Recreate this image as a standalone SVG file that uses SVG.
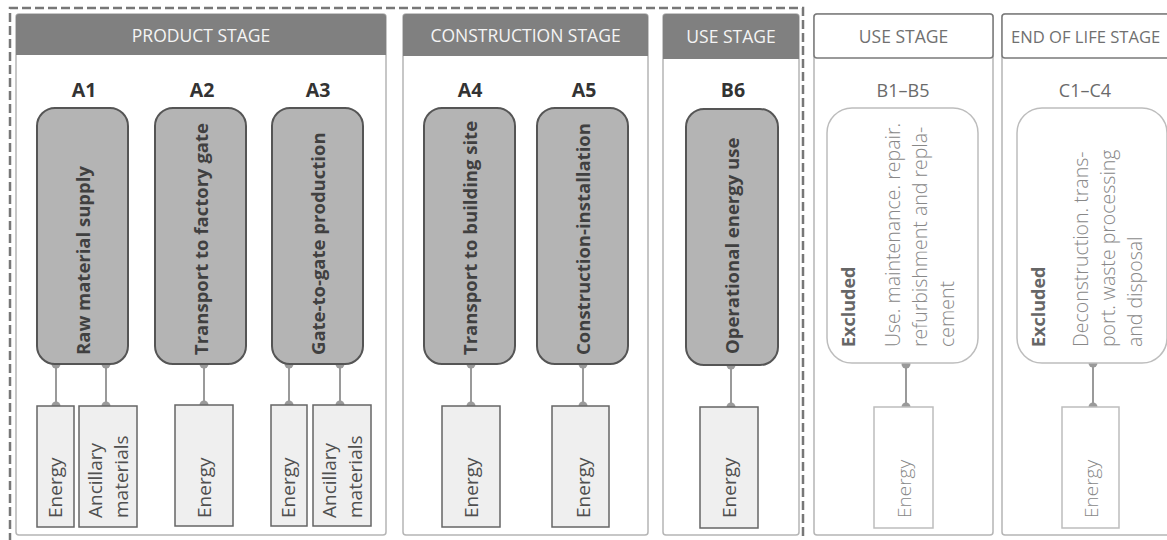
<svg xmlns="http://www.w3.org/2000/svg" width="1167" height="540" viewBox="0 0 1167 540">
<style>
text{font-family:"Open Sans","Noto Sans","Liberation Sans",sans-serif}
.panel{fill:#fff;stroke:#b5b5b5;stroke-width:1.5}
.hdr{fill:#808080}
.hdr2{fill:#fff;stroke:#7a7a7a;stroke-width:1.5}
.ht{fill:#f4f4f4;font-size:17.5px;text-anchor:middle}
.ht2{fill:#707070;font-size:17.5px;text-anchor:middle}
.code{fill:#333;font-size:19.5px;font-weight:700;text-anchor:middle}
.code2{fill:#6a6a6a;font-size:18px;text-anchor:middle}
.proc{fill:#b4b4b4;stroke:#555;stroke-width:2}
.proc2{fill:#fff;stroke:#bdbdbd;stroke-width:1.5}
.pt{fill:#404040;font-size:18.5px;font-weight:700}
.ex{fill:#666;font-size:18px;font-weight:700}
.desc{fill:#888;font-size:19.5px;font-weight:300}
.inp{fill:#efefef;stroke:#666;stroke-width:1.5}
.inp2{fill:#fff;stroke:#bdbdbd;stroke-width:1.5}
.it{fill:#505050;font-size:19px}
.it2{fill:#888;font-size:19px;font-weight:300}
.ln{stroke:#9a9a9a;stroke-width:2;fill:none}
.dot{fill:#9a9a9a}
</style>

<path d="M10,542 V8 H803 V542" fill="none" stroke="#777" stroke-width="2.5" stroke-dasharray="9 4"/>

<g id="panel-product">
<rect class="panel" x="16" y="14" width="370" height="521" rx="3"/>
<path class="hdr" d="M16,55 V17 Q16,14 19,14 H383 Q386,14 386,17 V55 Z"/>
<text class="ht" x="201" y="42">PRODUCT STAGE</text>
</g>
<g id="panel-construction">
<rect class="panel" x="403" y="14" width="245" height="521" rx="3"/>
<path class="hdr" d="M403,56 V17 Q403,14 406,14 H645 Q648,14 648,17 V56 Z"/>
<text class="ht" x="525.5" y="42">CONSTRUCTION STAGE</text>
</g>
<g id="panel-use-b6">
<rect class="panel" x="663" y="14" width="136" height="521" rx="3"/>
<path class="hdr" d="M663,59 V17 Q663,14 666,14 H796 Q799,14 799,17 V59 Z"/>
<text class="ht" x="731" y="43">USE STAGE</text>
</g>
<g id="panel-use-b1b5">
<rect class="panel" x="814" y="14" width="179" height="521" rx="3"/>
<rect class="hdr2" x="814" y="14" width="179" height="44" rx="3"/>
<text class="ht2" x="903.5" y="43">USE STAGE</text>
</g>
<g id="panel-eol">
<rect class="panel" x="1002" y="14" width="190" height="521" rx="3"/>
<rect class="hdr2" x="1002" y="14" width="190" height="44" rx="3"/>
<text class="ht2" x="1011" y="43" style="text-anchor:start;font-size:16.6px">END OF LIFE STAGE</text>
</g>

<g id="connectors">
<line class="ln" x1="56" y1="364" x2="56" y2="406"/><circle class="dot" cx="56" cy="364" r="4.5"/><circle class="dot" cx="56" cy="406" r="4.5"/>
<line class="ln" x1="106" y1="364" x2="106" y2="406"/><circle class="dot" cx="106" cy="364" r="4.5"/><circle class="dot" cx="106" cy="406" r="4.5"/>
<line class="ln" x1="204" y1="364" x2="204" y2="405"/><circle class="dot" cx="204" cy="364" r="4.5"/><circle class="dot" cx="204" cy="405" r="4.5"/>
<line class="ln" x1="289" y1="364" x2="289" y2="405"/><circle class="dot" cx="289" cy="364" r="4.5"/><circle class="dot" cx="289" cy="405" r="4.5"/>
<line class="ln" x1="340" y1="364" x2="340" y2="405"/><circle class="dot" cx="340" cy="364" r="4.5"/><circle class="dot" cx="340" cy="405" r="4.5"/>
<line class="ln" x1="471" y1="364" x2="471" y2="406"/><circle class="dot" cx="471" cy="364" r="4.5"/><circle class="dot" cx="471" cy="406" r="4.5"/>
<line class="ln" x1="583" y1="364" x2="583" y2="406"/><circle class="dot" cx="583" cy="364" r="4.5"/><circle class="dot" cx="583" cy="406" r="4.5"/>
<line class="ln" x1="731" y1="365" x2="731" y2="407"/><circle class="dot" cx="731" cy="365" r="4.5"/><circle class="dot" cx="731" cy="407" r="4.5"/>
<line class="ln" x1="906" y1="364" x2="906" y2="407"/><circle class="dot" cx="906" cy="364" r="4.5"/><circle class="dot" cx="906" cy="407" r="4.5"/>
<line class="ln" x1="1093" y1="363" x2="1093" y2="407"/><circle class="dot" cx="1093" cy="363" r="4.5"/><circle class="dot" cx="1093" cy="407" r="4.5"/>
</g>

<g id="A1">
<text class="code" x="84" y="97">A1</text>
<rect class="proc" x="37" y="108" width="91" height="256" rx="18"/>
<text class="pt" transform="translate(90,355) rotate(-90)">Raw material supply</text>
</g>
<g id="A2">
<text class="code" x="202" y="97">A2</text>
<rect class="proc" x="155" y="108" width="91" height="256" rx="18"/>
<text class="pt" transform="translate(208,355) rotate(-90)">Transport to factory gate</text>
</g>
<g id="A3">
<text class="code" x="318" y="97">A3</text>
<rect class="proc" x="272" y="108" width="91" height="256" rx="18"/>
<text class="pt" transform="translate(325,355) rotate(-90)">Gate-to-gate production</text>
</g>
<g id="A4">
<text class="code" x="470" y="97">A4</text>
<rect class="proc" x="424" y="108" width="91" height="256" rx="18"/>
<text class="pt" transform="translate(477,355) rotate(-90)">Transport to building site</text>
</g>
<g id="A5">
<text class="code" x="584" y="97">A5</text>
<rect class="proc" x="537" y="108" width="91" height="256" rx="18"/>
<text class="pt" transform="translate(590,355) rotate(-90)">Construction-installation</text>
</g>
<g id="B6">
<text class="code" x="733" y="97">B6</text>
<rect class="proc" x="686" y="109" width="92" height="256" rx="18"/>
<text class="pt" transform="translate(739,354) rotate(-90)">Operational energy use</text>
</g>
<g id="B1-B5">
<text class="code2" x="903" y="97">B1–B5</text>
<rect class="proc2" x="827" y="108" width="151" height="255" rx="25"/>
<text class="ex" transform="translate(855,347) rotate(-90)">Excluded</text>
<text class="desc" transform="translate(900,347) rotate(-90)">Use. maintenance. repair.</text>
<text class="desc" transform="translate(927,347) rotate(-90)">refurbishment and repla-</text>
<text class="desc" transform="translate(954,347) rotate(-90)">cement</text>
</g>
<g id="C1-C4">
<text class="code2" x="1085" y="97">C1–C4</text>
<rect class="proc2" x="1017" y="108" width="150" height="255" rx="25"/>
<text class="ex" transform="translate(1045,347) rotate(-90)">Excluded</text>
<text class="desc" transform="translate(1088,347) rotate(-90)">Deconstruction. trans-</text>
<text class="desc" transform="translate(1115,347) rotate(-90)">port. waste processing</text>
<text class="desc" transform="translate(1142,347) rotate(-90)">and disposal</text>
</g>

<g id="A1-energy"><rect class="inp" x="37" y="406" width="37" height="121"/><text class="it" transform="translate(62,518) rotate(-90)">Energy</text></g>
<g id="A1-ancillary"><rect class="inp" x="79" y="406" width="58" height="121"/><text class="it" transform="translate(102,518) rotate(-90)">Ancillary</text><text class="it" transform="translate(128,518) rotate(-90)">materials</text></g>
<g id="A2-energy"><rect class="inp" x="175" y="405" width="58" height="121"/><text class="it" transform="translate(211,518) rotate(-90)">Energy</text></g>
<g id="A3-energy"><rect class="inp" x="271" y="405" width="36" height="121"/><text class="it" transform="translate(295,518) rotate(-90)">Energy</text></g>
<g id="A3-ancillary"><rect class="inp" x="313" y="405" width="58" height="121"/><text class="it" transform="translate(336,518) rotate(-90)">Ancillary</text><text class="it" transform="translate(362,518) rotate(-90)">materials</text></g>
<g id="A4-energy"><rect class="inp" x="442" y="406" width="58" height="121"/><text class="it" transform="translate(478,518) rotate(-90)">Energy</text></g>
<g id="A5-energy"><rect class="inp" x="552" y="406" width="57" height="121"/><text class="it" transform="translate(590,518) rotate(-90)">Energy</text></g>
<g id="B6-energy"><rect class="inp" x="700" y="407" width="58" height="121"/><text class="it" transform="translate(736,518) rotate(-90)">Energy</text></g>
<g id="B1-B5-energy"><rect class="inp2" x="874" y="407" width="59" height="121"/><text class="it2" transform="translate(911,518) rotate(-90)">Energy</text></g>
<g id="C1-C4-energy"><rect class="inp2" x="1062" y="407" width="57" height="121"/><text class="it2" transform="translate(1098,518) rotate(-90)">Energy</text></g>
</svg>
